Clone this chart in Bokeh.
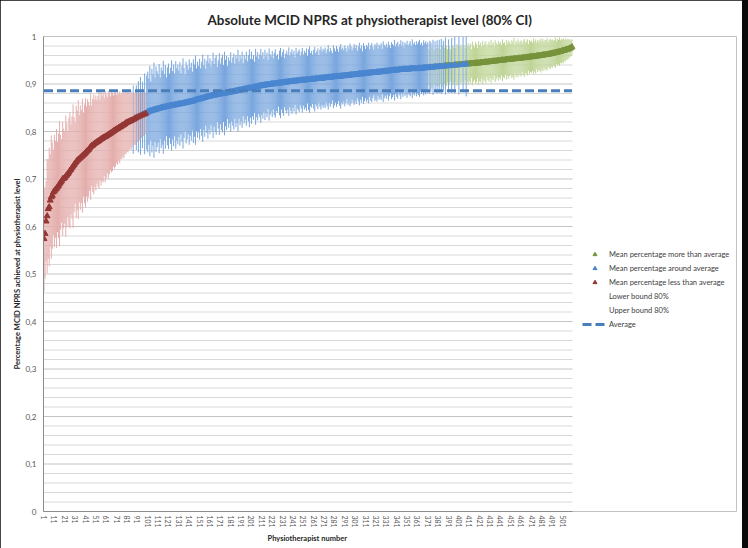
import numpy as np
from bokeh.plotting import figure
from bokeh.models import (ColumnDataSource, Range1d, FixedTicker, Legend, LegendItem, Title,
                          GlobalInlineStyleSheet)
from bokeh.embed import file_html
from bokeh.resources import INLINE

# Mean percentage (x1000) per physiotherapist, sorted ascending
mean_pct = [
    574, 585, 611, 622, 637, 641, 655, 662, 665, 672,
    675, 678, 680, 683, 686, 690, 693, 696, 700, 701,
    703, 706, 708, 711, 714, 718, 720, 724, 727, 730,
    733, 736, 739, 741, 743, 745, 747, 749, 751, 753,
    755, 758, 760, 762, 765, 768, 770, 771, 773, 775,
    776, 778, 779, 781, 782, 784, 785, 787, 788, 789,
    790, 792, 793, 795, 796, 798, 799, 801, 802, 804,
    805, 806, 808, 809, 810, 812, 813, 814, 816, 818,
    819, 820, 821, 822, 823, 824, 825, 826, 828, 829,
    830, 831, 832, 833, 834, 835, 836, 837, 838, 840,
    841, 842, 843, 843, 844, 845, 845, 846, 847, 847,
    848, 848, 849, 850, 850, 851, 851, 852, 852, 853,
    853, 854, 854, 855, 855, 855, 856, 856, 857, 857,
    858, 858, 858, 859, 859, 860, 860, 861, 861, 862,
    862, 863, 863, 864, 864, 865, 866, 867, 867, 868,
    868, 869, 869, 870, 871, 871, 872, 873, 873, 874,
    874, 875, 875, 876, 876, 877, 877, 878, 878, 879,
    879, 879, 880, 880, 880, 881, 881, 882, 882, 883,
    883, 883, 884, 884, 885, 885, 886, 886, 887, 887,
    887, 888, 888, 889, 889, 890, 890, 891, 891, 891,
    892, 892, 893, 893, 894, 894, 895, 895, 896, 896,
    897, 897, 897, 898, 898, 898, 899, 899, 899, 900,
    900, 900, 900, 901, 901, 901, 902, 902, 902, 902,
    903, 903, 903, 904, 904, 904, 905, 905, 905, 905,
    906, 906, 906, 906, 907, 907, 907, 907, 908, 908,
    908, 908, 908, 909, 909, 909, 909, 909, 910, 910,
    910, 910, 911, 911, 911, 911, 912, 912, 912, 912,
    913, 913, 913, 913, 914, 914, 914, 914, 915, 915,
    915, 915, 916, 916, 916, 916, 916, 917, 917, 917,
    917, 918, 918, 918, 918, 919, 919, 919, 919, 920,
    920, 920, 920, 921, 921, 921, 921, 921, 922, 922,
    922, 922, 923, 923, 923, 923, 924, 924, 924, 924,
    924, 925, 925, 925, 925, 926, 926, 926, 926, 927,
    927, 927, 927, 928, 928, 928, 928, 929, 929, 929,
    929, 929, 930, 930, 930, 930, 931, 931, 931, 931,
    931, 931, 931, 932, 932, 932, 932, 932, 932, 932,
    932, 933, 933, 933, 933, 933, 934, 934, 934, 934,
    934, 935, 935, 935, 935, 935, 936, 936, 936, 936,
    936, 937, 937, 937, 937, 937, 938, 938, 938, 938,
    938, 939, 939, 939, 939, 939, 940, 940, 940, 940,
    940, 941, 941, 941, 941, 941, 942, 942, 942, 942,
    942, 943, 943, 943, 943, 943, 944, 944, 944, 944,
    944, 945, 945, 945, 945, 946, 946, 946, 946, 947,
    947, 947, 947, 948, 948, 948, 948, 949, 949, 949,
    949, 950, 950, 950, 950, 951, 951, 951, 951, 952,
    952, 952, 952, 953, 953, 953, 953, 954, 954, 954,
    954, 955, 955, 955, 955, 956, 956, 956, 957, 957,
    957, 957, 958, 958, 958, 959, 959, 959, 960, 960,
    960, 961, 961, 961, 962, 962, 962, 963, 963, 964,
    964, 965, 965, 966, 966, 967, 967, 968, 968, 969,
    970, 970, 971, 972, 972, 973, 974, 975, 976, 978,
]

# Half width of the 80% CI (x1000) per physiotherapist
ci_half = [
    110, 95, 85, 120, 105, 125, 98, 130, 112, 90,
    118, 102, 125, 95, 110, 132, 100, 88, 120, 105,
    97, 128, 110, 90, 115, 122, 95, 108, 130, 100,
    85, 118, 105, 125, 92, 110, 98, 120, 88, 104,
    115, 95, 108, 100, 90, 112, 85, 98, 105, 92,
    100, 88, 95, 102, 85, 98, 90, 94, 82, 96,
    88, 80, 92, 85, 78, 84, 82, 75, 80, 78,
    72, 76, 70, 76, 68, 70, 66, 70, 64, 66,
    62, 64, 60, 58, 62, 56, 72, 54, 56, 68,
    52, 75, 50, 82, 48, 70, 46, 85, 44, 78,
    85, 70, 95, 62, 88, 75, 100, 68, 90, 80,
    72, 94, 65, 85, 78, 98, 70, 88, 62, 82,
    90, 68, 80, 95, 72, 86, 66, 92, 76, 84,
    70, 88, 64, 80, 95, 74, 60, 86, 78, 68,
    90, 72, 82, 62, 88, 76, 94, 66, 80, 70,
    85, 64, 78, 92, 68, 82, 60, 76, 88, 70,
    80, 62, 74, 90, 66, 78, 84, 58, 72, 86,
    64, 76, 82, 60, 88, 70, 78, 56, 74, 66,
    84, 62, 72, 80, 58, 76, 68, 86, 60, 74,
    66, 80, 56, 72, 64, 78, 58, 70, 82, 62,
    76, 60, 68, 54, 80, 64, 72, 58, 66, 78,
    62, 70, 56, 74, 60, 68, 52, 76, 64, 58,
    70, 54, 66, 72, 58, 62, 50, 68, 74, 56,
    64, 70, 52, 60, 66, 58, 72, 54, 62, 68,
    56, 64, 50, 70, 58, 62, 66, 52, 60, 68,
    54, 62, 58, 66, 50, 64, 70, 56, 60, 52,
    62, 68, 54, 58, 64, 50, 60, 66, 56, 62,
    58, 64, 52, 60, 68, 54, 62, 56, 50, 66,
    60, 54, 64, 58, 52, 62, 68, 56, 60, 54,
    64, 58, 50, 62, 56, 66, 60, 52, 58, 64,
    56, 62, 50, 58, 66, 54, 60, 48, 64, 58,
    52, 60, 56, 64, 50, 58, 62, 54, 48, 60,
    56, 62, 50, 58, 54, 60, 48, 64, 56, 52,
    58, 50, 62, 54, 48, 60, 56, 52, 64, 50,
    56, 60, 48, 54, 62, 50, 58, 46, 56, 52,
    60, 50, 54, 58, 48, 62, 52, 56, 50, 58,
    52, 56, 60, 50, 54, 48, 58, 52, 56, 50,
    54, 38, 56, 52, 42, 58, 36, 54, 40, 56,
    40, 56, 36, 58, 44, 54, 38, 60, 42, 35,
    56, 40, 34, 58, 42, 38, 60, 36, 44, 40,
    62, 38, 42, 36, 58, 40, 34, 68, 38, 44,
    36, 42, 30, 46, 38, 34, 44, 40, 32, 46,
    38, 42, 34, 46, 36, 40, 44, 32, 38, 42,
    34, 46, 36, 40, 30, 44, 38, 34, 42, 36,
    40, 32, 44, 36, 38, 30, 42, 34, 40, 36,
    32, 40, 36, 44, 30, 38, 34, 40, 32, 36,
    38, 30, 36, 40, 32, 34, 38, 28, 36, 32,
    34, 30, 38, 32, 36, 28, 34, 30, 32, 36,
    30, 34, 28, 32, 30, 34, 26, 30, 32, 28,
    30, 26, 28, 32, 24, 28, 26, 30, 24, 26,
    24, 26, 22, 24, 20, 22, 20, 18, 18, 16,
]

average = 0.886
y_tick_values = [0, 0.1, 0.2, 0.3, 0.4, 0.5, 0.6, 0.7, 0.8, 0.9, 1]
y_tick_labels = ["0", "0,1", "0,2", "0,3", "0,4", "0,5", "0,6", "0,7", "0,8", "0,9", "1"]
x_tick_values = list(range(1, 502, 10))

n = len(mean_pct)
physio = np.arange(1, n + 1)
mean = np.array(mean_pct) / 1000.0
half = np.array(ci_half) / 1000.0
lower = mean - half
upper = mean + half
group = np.where(upper < average, "less", np.where(lower > average, "more", "around"))

FONT = "Lato"
styles = {
    "more":   dict(bar="#BFD596", mark="#77933C", label="Mean percentage more than average"),
    "around": dict(bar="#78A6DE", mark="#4A86D0", label="Mean percentage around average"),
    "less":   dict(bar="#E4AEAC", mark="#953735", label="Mean percentage less than average"),
}

# layout (pixels): plotting area spans x 43..572, legend sits to its right in the frame
W, H = 742, 548
LEFT, TOP, BOTTOM, RIGHT_PAD = 43, 36, 37, 6
PLOT_RIGHT = 572
frame_w = W - LEFT - RIGHT_PAD
x_end = 0.5 + n * frame_w / (PLOT_RIGHT - LEFT)

p = figure(width=W, height=H, output_backend="svg", toolbar_location=None,
           x_range=Range1d(0.5, x_end), y_range=Range1d(0, 1))
p.stylesheets = [GlobalInlineStyleSheet(css="html, body { background-color: #0a0a0a; margin: 0; }")]
p.min_border_left = LEFT
p.min_border_right = RIGHT_PAD
p.min_border_top = TOP
p.min_border_bottom = BOTTOM
p.outline_line_color = None
p.background_fill_color = "white"
p.border_fill_color = "white"

p.title.text = "Absolute MCID NPRS at physiotherapist level (80% CI)"
p.title.text_font = FONT
p.title.text_font_style = "bold"
p.title.text_font_size = "13.4px"
p.title.text_color = "#262626"
p.title.align = "left"
p.title.offset = 164
p.title.standoff = 17

# horizontal gridlines limited to the plotting area
p.xgrid.visible = False
p.ygrid.visible = False
grid_minor = [i / 50 for i in range(51) if i % 5]
p.segment(x0=0.5, x1=n + 0.5, y0=grid_minor, y1=grid_minor, line_color="#D9D9D9", line_width=1)
p.segment(x0=0.5, x1=n + 0.5, y0=y_tick_values, y1=y_tick_values, line_color="#C4C4C4", line_width=1)

# axes
p.yaxis.ticker = FixedTicker(ticks=y_tick_values)
p.yaxis.major_label_overrides = dict(zip(y_tick_values, y_tick_labels))
p.yaxis.axis_label = "Percentage MCID NPRS achieved at physiotherapist level"
p.xaxis.ticker = FixedTicker(ticks=x_tick_values)
p.xaxis.bounds = (0.5, n + 0.5)
p.xaxis.major_label_orientation = "vertical"
for ax in (p.xaxis, p.yaxis):
    ax.axis_line_color = "#8C8C8C"
    ax.major_tick_line_color = None
    ax.minor_tick_line_color = None
    ax.major_tick_out = 0
    ax.major_tick_in = 0
    ax.minor_tick_out = 0
    ax.minor_tick_in = 0
    ax.major_label_text_font = FONT
    ax.major_label_text_color = "#595959"
    ax.axis_label_text_font = FONT
    ax.axis_label_text_font_style = "bold"
    ax.axis_label_text_color = "#262626"
    ax.axis_label_text_font_size = "7.5px"
p.yaxis.major_label_text_font_size = "8px"
p.xaxis.major_label_text_font_size = "7px"
p.yaxis.major_label_standoff = 7
p.xaxis.major_label_standoff = 4
p.yaxis.axis_label_standoff = 0

xlabel = Title(text="Physiotherapist number", align="left", offset=224,
               text_font=FONT, text_font_style="bold", text_font_size="7.5px",
               text_color="#262626", standoff=2)
p.add_layout(xlabel, "below")

marker_renderers = {}
for key in ["more", "around", "less"]:
    m = group == key
    src = ColumnDataSource(dict(x=physio[m], y=mean[m], lo=lower[m], hi=upper[m]))
    st = styles[key]
    p.segment(x0="x", y0="lo", x1="x", y1="hi", source=src, line_color=st["bar"], line_width=1)
    marker_renderers[key] = p.scatter(x="x", y="y", source=src, marker="triangle", size=6,
                                      fill_color=st["mark"], line_color=st["mark"])

avg_src = ColumnDataSource(dict(x=[physio[0], physio[-1]], y=[average, average]))
avg_r = p.line(x="x", y="y", source=avg_src, line_color="#4A7EBB", line_width=3, line_dash="9 4")

blank1 = p.scatter(x=[], y=[], size=0, fill_alpha=0, line_alpha=0)
blank2 = p.scatter(x=[], y=[], size=0, fill_alpha=0, line_alpha=0)

legend = Legend(items=[
    LegendItem(label=styles["more"]["label"], renderers=[marker_renderers["more"]]),
    LegendItem(label=styles["around"]["label"], renderers=[marker_renderers["around"]]),
    LegendItem(label=styles["less"]["label"], renderers=[marker_renderers["less"]]),
    LegendItem(label="Lower bound 80%", renderers=[blank1]),
    LegendItem(label="Upper bound 80%", renderers=[blank2]),
    LegendItem(label="Average", renderers=[avg_r]),
])
legend.location = (PLOT_RIGHT + 10 - LEFT, 182)
legend.label_text_font = FONT
legend.label_text_font_size = "7.5px"
legend.label_text_color = "#404040"
legend.glyph_width = 25
legend.glyph_height = 10
legend.label_height = 10
legend.spacing = 4
legend.label_standoff = 2
legend.padding = 0
legend.margin = 0
legend.border_line_color = None
legend.background_fill_alpha = 0
p.add_layout(legend)

open("out.html", "w").write(file_html(p, INLINE))
